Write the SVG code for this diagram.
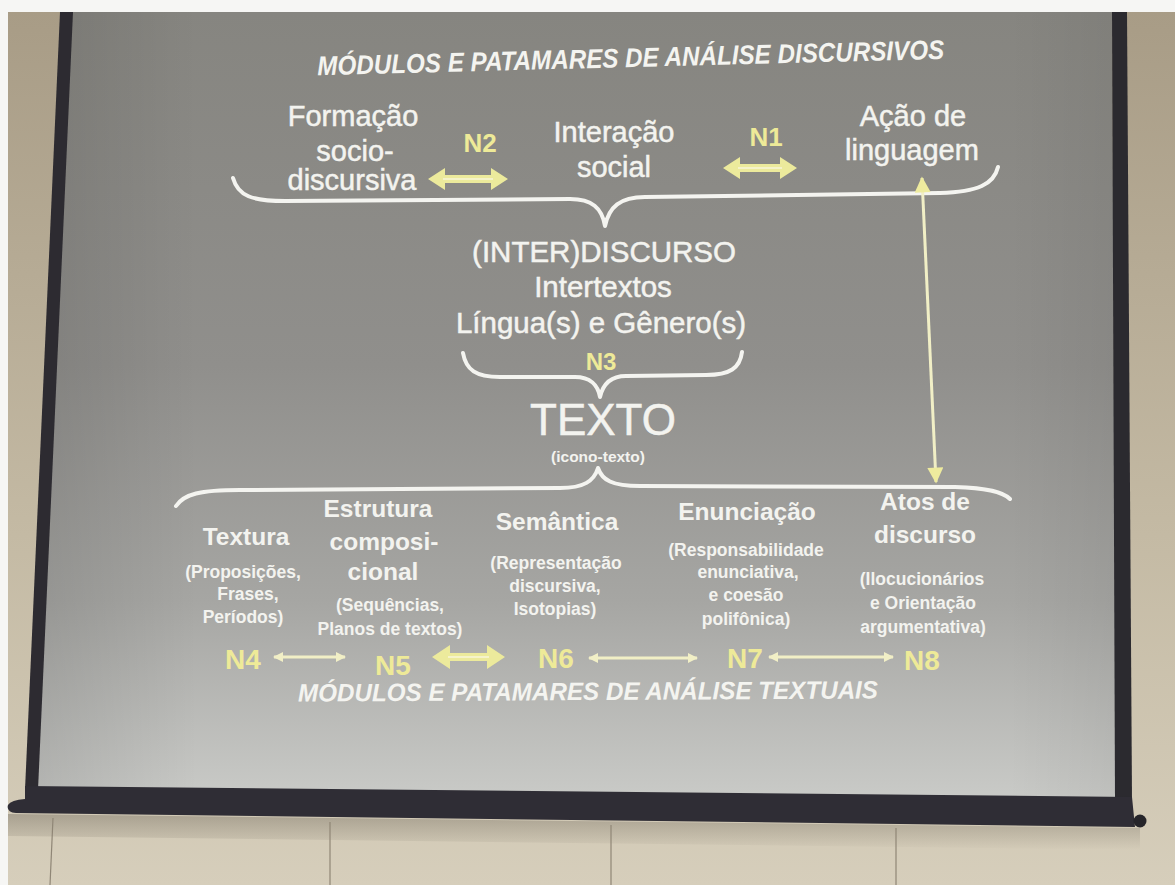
<svg xmlns="http://www.w3.org/2000/svg" width="1175" height="885" viewBox="0 0 1175 885">
  <defs>
    <linearGradient id="wall" x1="0" y1="0" x2="0" y2="1">
      <stop offset="0" stop-color="#a89c86"/>
      <stop offset="0.6" stop-color="#c4baa4"/>
      <stop offset="1" stop-color="#d6cebb"/>
    </linearGradient>
    <linearGradient id="screen" x1="0" y1="0" x2="0" y2="1">
      <stop offset="0" stop-color="#868580"/>
      <stop offset="0.45" stop-color="#908f8c"/>
      <stop offset="0.75" stop-color="#a6a6a3"/>
      <stop offset="1" stop-color="#c9cac7"/>
    </linearGradient>
    <linearGradient id="screenSide" x1="0" y1="0" x2="1" y2="0">
      <stop offset="0" stop-color="#000" stop-opacity="0.10"/>
      <stop offset="0.15" stop-color="#000" stop-opacity="0"/>
      <stop offset="0.9" stop-color="#000" stop-opacity="0"/>
      <stop offset="1" stop-color="#000" stop-opacity="0.05"/>
    </linearGradient>
    <linearGradient id="shadow" x1="0" y1="0" x2="0" y2="1">
      <stop offset="0" stop-color="#5a5348" stop-opacity="0.35"/>
      <stop offset="1" stop-color="#5a5348" stop-opacity="0"/>
    </linearGradient>
    <marker id="tip" viewBox="0 0 10 10" refX="9" refY="5" markerWidth="11" markerHeight="10" markerUnits="userSpaceOnUse" orient="auto-start-reverse">
      <path d="M0,0 L10,5 L0,10 Z" fill="#f1efc6"/>
    </marker>
    <marker id="bigTip" viewBox="0 0 10 10" refX="9" refY="5" markerWidth="18" markerHeight="16" markerUnits="userSpaceOnUse" orient="auto-start-reverse">
      <path d="M0,0 L10,5 L0,10 Z" fill="#eeeb9e"/>
    </marker>
    <style>
      .t { font-family: "Liberation Sans", Arial, sans-serif; fill: #f3f3ef; text-anchor: middle; }
      .top { font-size: 29px; stroke: #f3f3ef; stroke-width: 0.5; }
      .mid { font-size: 29.5px; stroke: #f3f3ef; stroke-width: 0.5; }
      .head { font-size: 24.5px; font-weight: 700; }
      .sub { font-size: 17.5px; font-weight: 700; }
      .lvl { font-family: "Liberation Sans", Arial, sans-serif; fill: #eeea98; text-anchor: middle; font-weight: 700; }
      .ttl { font-family: "Liberation Sans", Arial, sans-serif; fill: #f4f4f0; font-weight: 700; font-style: italic; text-anchor: middle; }
      .brace { fill: none; stroke: #f4f4f0; stroke-width: 4; stroke-linecap: round; stroke-linejoin: round; }
      .thin { fill: none; stroke: #f1efc6; stroke-width: 3; }
      .fat { fill: #ecea9c; }
      .fatline { stroke: #f8f6d8; stroke-width: 1.5; }
    </style>
  </defs>

  <!-- room: white margin, wall, projection screen -->
  <rect x="0" y="0" width="1175" height="885" fill="#f6f6f4"/>
  <rect x="8" y="12" width="1167" height="873" fill="url(#wall)"/>
  <polygon points="66,12 1112,12 1116,798 36,787" fill="url(#screen)"/>
  <polygon points="66,12 1112,12 1116,798 36,787" fill="url(#screenSide)"/>
  <polygon points="60,12 73,12 38,790 25,790" fill="#2d2b31"/>
  <polygon points="1112,12 1127,12 1132,800 1115,800" fill="#2b2a2f"/>
  <polygon points="8,814 1140,828 1140,850 8,836" fill="url(#shadow)"/>
  <path d="M25,786 L1132,797 L1135,827 L16,813 Q6,812 8,805 Q11,800 25,799 Z" fill="#2f2d35"/>
  <circle cx="1140" cy="821" r="6.5" fill="#26252a"/>
  <g stroke="#8f8676" stroke-width="1.2">
    <line x1="53" y1="818" x2="50" y2="885"/>
    <line x1="330" y1="822" x2="330" y2="885"/>
    <line x1="611" y1="825" x2="611" y2="885"/>
    <line x1="896" y1="828" x2="896" y2="885"/>
  </g>

  <!-- titles -->
  <g id="title-discursive">
    <text class="ttl" x="631" y="67" font-size="27" textLength="627" lengthAdjust="spacingAndGlyphs" transform="rotate(-1.5 631 67)">MÓDULOS E PATAMARES DE ANÁLISE DISCURSIVOS</text>
  </g>
  <g id="title-textual">
    <text class="ttl" x="588" y="700" font-size="25" textLength="580" lengthAdjust="spacingAndGlyphs" transform="rotate(-0.3 588 700)">MÓDULOS E PATAMARES DE ANÁLISE TEXTUAIS</text>
  </g>

  <!-- connectors: braces and arrows -->
  <g id="connectors">
    <path class="brace" d="M233,178 C238,196 252,201 285,201 L570,199 C592,199 602,208 605,226 C609,207 620,197 645,197 L940,193 C978,192 994,184 998,167"/>
    <path class="brace" d="M463,353 C466,370 476,377 500,377 L575,377 C590,377 598,385 600,397 C603,384 611,376 626,376 L706,375 C730,375 740,368 742,352"/>
    <path class="brace" d="M176,506 C184,494 200,490 240,490 L560,488 C584,488 594,481 598,468 C602,480 612,486 640,486 L955,487 C988,488 1003,492 1010,499"/>
    <line class="thin" x1="922" y1="178" x2="936" y2="482" stroke="#eeeb9e" marker-start="url(#bigTip)" marker-end="url(#bigTip)"/>
    <!-- N2 double arrow -->
    <polygon class="fat" points="428,179 445,168 445,175 491,175 491,168 508,179 491,190 491,183 445,183 445,190"/>
    <line class="fatline" x1="443" y1="179" x2="493" y2="179"/>
    <!-- N1 double arrow -->
    <polygon class="fat" points="723,168 740,157 740,164 780,164 780,157 797,168 780,179 780,172 740,172 740,179"/>
    <line class="fatline" x1="738" y1="168" x2="782" y2="168"/>
    <!-- N5 double arrow -->
    <polygon class="fat" points="432,657 450,645 450,653 487,653 487,645 505,657 487,669 487,661 450,661 450,669"/>
    <line class="fatline" x1="448" y1="657" x2="489" y2="657"/>
    <line class="thin" x1="274" y1="657" x2="345" y2="657" marker-start="url(#tip)" marker-end="url(#tip)"/>
    <line class="thin" x1="589" y1="658" x2="697" y2="658" marker-start="url(#tip)" marker-end="url(#tip)"/>
    <line class="thin" x1="769" y1="657" x2="893" y2="657" marker-start="url(#tip)" marker-end="url(#tip)"/>
  </g>

  <!-- discursive level -->
  <g id="formacao">
    <text class="t top" x="353" y="126">Formação</text>
    <text class="t top" x="355" y="161">socio-</text>
    <text class="t top" x="352" y="190">discursiva</text>
  </g>
  <g id="interacao">
    <text class="t top" x="614" y="142">Interação</text>
    <text class="t top" x="614" y="177">social</text>
  </g>
  <g id="acao">
    <text class="t top" x="913" y="126">Ação de</text>
    <text class="t top" x="912" y="160">linguagem</text>
  </g>
  <g id="n2"><text class="lvl" x="480" y="152" font-size="26">N2</text></g>
  <g id="n1"><text class="lvl" x="766" y="146" font-size="26">N1</text></g>

  <g id="interdiscurso">
    <text class="t mid" x="604" y="262">(INTER)DISCURSO</text>
    <text class="t mid" x="603" y="297">Intertextos</text>
    <text class="t mid" x="601" y="333">Língua(s) e Gênero(s)</text>
  </g>
  <g id="n3"><text class="lvl" x="601" y="370" font-size="24">N3</text></g>
  <g id="texto">
    <text class="t" x="603" y="435" font-size="44" stroke="#f3f3ef" stroke-width="0.5">TEXTO</text>
    <text class="t" x="598" y="462" font-size="15.5" font-weight="700">(icono-texto)</text>
  </g>

  <!-- textual level -->
  <g id="textura">
    <text class="t head" x="246" y="545">Textura</text>
    <text class="t sub" x="243" y="578">(Proposições,</text>
    <text class="t sub" x="248" y="600">Frases,</text>
    <text class="t sub" x="243" y="623">Períodos)</text>
  </g>
  <g id="estrutura">
    <text class="t head" x="378" y="517">Estrutura</text>
    <text class="t head" x="384" y="550">composi-</text>
    <text class="t head" x="383" y="580">cional</text>
    <text class="t sub" x="390" y="611">(Sequências,</text>
    <text class="t sub" x="390" y="635">Planos de textos)</text>
  </g>
  <g id="semantica">
    <text class="t head" x="557" y="530">Semântica</text>
    <text class="t sub" x="556" y="569">(Representação</text>
    <text class="t sub" x="555" y="592">discursiva,</text>
    <text class="t sub" x="555" y="615">Isotopias)</text>
  </g>
  <g id="enunciacao">
    <text class="t head" x="747" y="520">Enunciação</text>
    <text class="t sub" x="746" y="556">(Responsabilidade</text>
    <text class="t sub" x="748" y="578">enunciativa,</text>
    <text class="t sub" x="746" y="601">e coesão</text>
    <text class="t sub" x="746" y="625">polifônica)</text>
  </g>
  <g id="atos">
    <text class="t head" x="925" y="510">Atos de</text>
    <text class="t head" x="925" y="543">discurso</text>
    <text class="t sub" x="922" y="585">(Ilocucionários</text>
    <text class="t sub" x="923" y="609">e Orientação</text>
    <text class="t sub" x="923" y="633">argumentativa)</text>
  </g>
  <g id="n4"><text class="lvl" x="243" y="669" font-size="28">N4</text></g>
  <g id="n5"><text class="lvl" x="393" y="675" font-size="28">N5</text></g>
  <g id="n6"><text class="lvl" x="556" y="668" font-size="28">N6</text></g>
  <g id="n7"><text class="lvl" x="745" y="668" font-size="28">N7</text></g>
  <g id="n8"><text class="lvl" x="922" y="670" font-size="28">N8</text></g>
</svg>
